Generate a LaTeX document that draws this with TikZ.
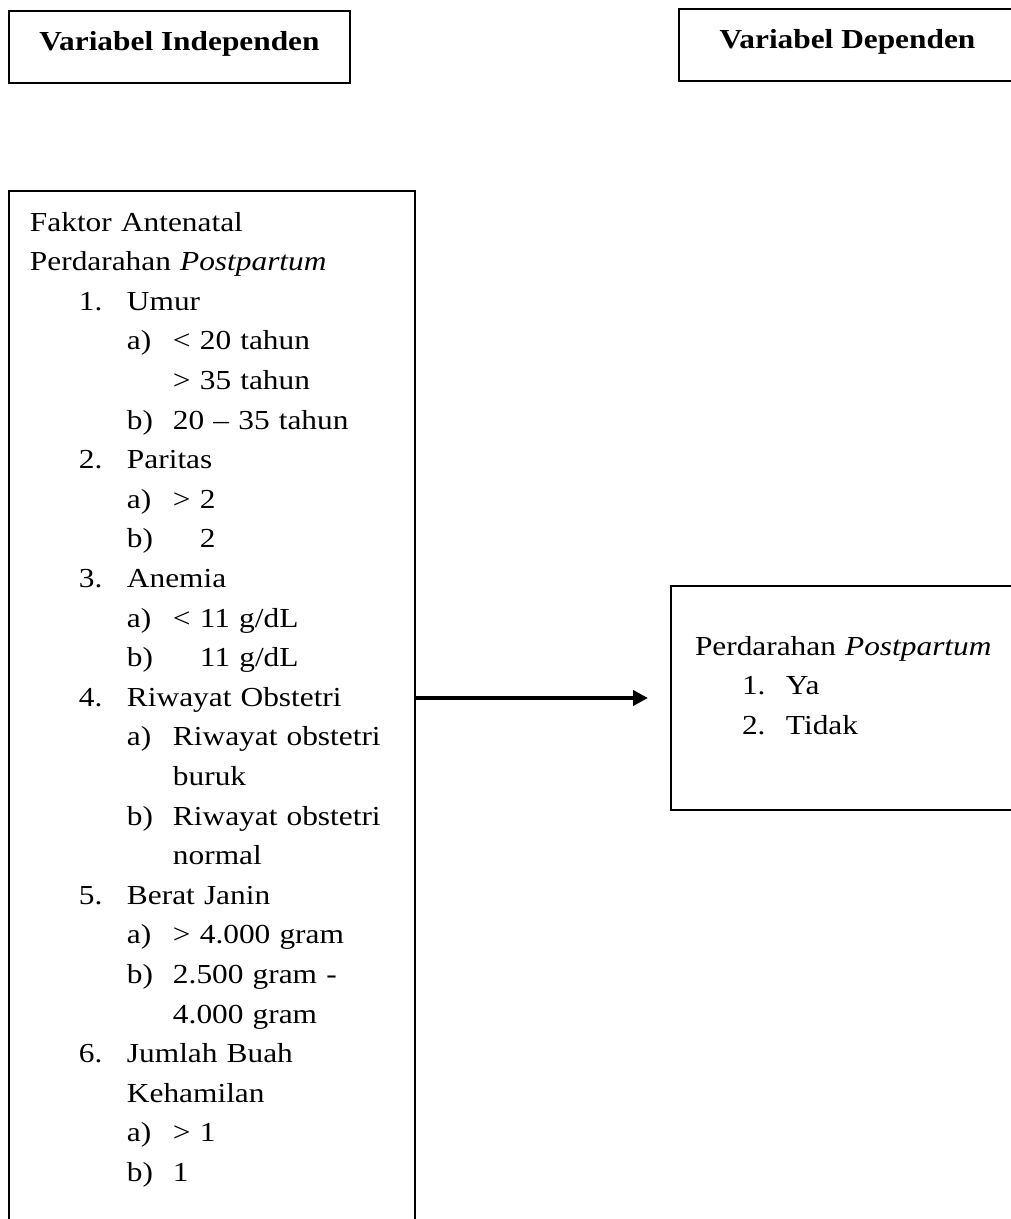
\documentclass[tikz,border=0pt]{standalone}
\usepackage{fontspec}
\setmainfont[FakeStretch=1.14]{Liberation Serif}
\usetikzlibrary{arrows.meta,positioning}

\newcommand{\lvlone}[2]{\mbox{\hspace{49pt}\makebox[48pt][l]{#1}#2}}
\newcommand{\lvltwo}[2]{\mbox{\hspace{97pt}\makebox[46pt][l]{#1}#2}}
\newcommand{\lvlcont}[2]{\mbox{\hspace{#1}#2}}
\newcommand{\ansitem}[2]{\mbox{\hspace{47pt}\makebox[44pt][l]{#1}#2}}

\begin{document}
\begin{tikzpicture}[x=1pt,y=1pt,line width=2pt,font=\fontsize{27.5}{39.6}\selectfont,
  varbox/.style={draw,rectangle,inner sep=0pt,outer sep=0pt,font=\fontsize{27.5}{39.6}\selectfont\bfseries,text height=39pt,text depth=33pt},
  listbox/.style={draw,rectangle,inner ysep=0pt,outer sep=0pt,align=left}]

  \useasboundingbox (0,0) rectangle (1011,-1219);
  \clip (0,0) rectangle (1011,-1219);

  \node[varbox] (indep) [minimum width=341pt,anchor=north west] at (9,-11) {Variabel Independen};
  \node[varbox] (dep) [minimum width=337pt,right=329pt of indep,yshift=2pt] {Variabel Dependen};

  \node[listbox] (faktor) [inner xsep=21pt,text width=364pt,text height=40pt,text depth=1300pt,below=108pt of indep.south west,anchor=north west]
    {Faktor Antenatal\\
     Perdarahan \textit{Postpartum}\\
     \lvlone{1.}{Umur}\\
     \lvltwo{a)}{< 20 tahun}\\
     \lvlcont{143pt}{> 35 tahun}\\
     \lvltwo{b)}{20 -- 35 tahun}\\
     \lvlone{2.}{Paritas}\\
     \lvltwo{a)}{> 2}\\
     \lvltwo{b)}{\hspace{27pt}2}\\
     \lvlone{3.}{Anemia}\\
     \lvltwo{a)}{< 11 g/dL}\\
     \lvltwo{b)}{\hspace{27pt}11 g/dL}\\
     \lvlone{4.}{Riwayat Obstetri}\\
     \lvltwo{a)}{Riwayat obstetri}\\
     \lvlcont{143pt}{buruk}\\
     \lvltwo{b)}{Riwayat obstetri}\\
     \lvlcont{143pt}{normal}\\
     \lvlone{5.}{Berat Janin}\\
     \lvltwo{a)}{> 4.000 gram}\\
     \lvltwo{b)}{2.500 gram -}\\
     \lvlcont{143pt}{4.000 gram}\\
     \lvlone{6.}{Jumlah Buah}\\
     \lvlcont{97pt}{Kehamilan}\\
     \lvltwo{a)}{> 1}\\
     \lvltwo{b)}{1}};
  \node[listbox] (pph) [inner xsep=24pt,text width=330pt,text height=69pt,text depth=155pt,below right=395pt and 256pt of faktor.north east]
    {Perdarahan \textit{Postpartum}\\
     \ansitem{1.}{Ya}\\
     \ansitem{2.}{Tidak}};

  \path[-{Triangle[length=15pt,width=15pt]},line width=4pt]
    (faktor.east |- pph.west) edge [shorten >=23pt] (pph.west);

\end{tikzpicture}
\end{document}
